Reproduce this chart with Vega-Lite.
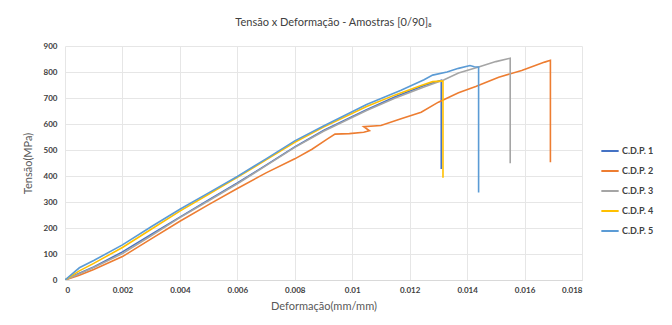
{
  "$schema": "https://vega.github.io/schema/vega-lite/v6.json",
  "width": 517,
  "height": 234,
  "autosize": {"type": "none"},
  "padding": {"left": 65, "top": 46, "right": 90, "bottom": 45},
  "background": "white",
  "title": {
    "text": "Tensão x Deformação - Amostras [0/90]₈",
    "anchor": "middle",
    "dx": 10,
    "offset": 14,
    "fontSize": 11,
    "fontWeight": "normal",
    "font": "Lato",
    "color": "#404040"
  },
  "data": {
    "values": [
      {"s": "C.D.P. 1", "i": 0, "x": 0, "y": 0},
      {"s": "C.D.P. 1", "i": 1, "x": 0.0005, "y": 26},
      {"s": "C.D.P. 1", "i": 2, "x": 0.001, "y": 50},
      {"s": "C.D.P. 1", "i": 3, "x": 0.002, "y": 108},
      {"s": "C.D.P. 1", "i": 4, "x": 0.003, "y": 175},
      {"s": "C.D.P. 1", "i": 5, "x": 0.004, "y": 242},
      {"s": "C.D.P. 1", "i": 6, "x": 0.005, "y": 308},
      {"s": "C.D.P. 1", "i": 7, "x": 0.006, "y": 373},
      {"s": "C.D.P. 1", "i": 8, "x": 0.007, "y": 442},
      {"s": "C.D.P. 1", "i": 9, "x": 0.008, "y": 512},
      {"s": "C.D.P. 1", "i": 10, "x": 0.009, "y": 575},
      {"s": "C.D.P. 1", "i": 11, "x": 0.0105, "y": 655},
      {"s": "C.D.P. 1", "i": 12, "x": 0.0115, "y": 705},
      {"s": "C.D.P. 1", "i": 13, "x": 0.0125, "y": 748},
      {"s": "C.D.P. 1", "i": 14, "x": 0.0131, "y": 768},
      {"s": "C.D.P. 1", "i": 15, "x": 0.0131, "y": 427},
      {"s": "C.D.P. 2", "i": 0, "x": 0, "y": 0},
      {"s": "C.D.P. 2", "i": 1, "x": 0.0005, "y": 18},
      {"s": "C.D.P. 2", "i": 2, "x": 0.001, "y": 40},
      {"s": "C.D.P. 2", "i": 3, "x": 0.002, "y": 90},
      {"s": "C.D.P. 2", "i": 4, "x": 0.003, "y": 158},
      {"s": "C.D.P. 2", "i": 5, "x": 0.004, "y": 226},
      {"s": "C.D.P. 2", "i": 6, "x": 0.005, "y": 290},
      {"s": "C.D.P. 2", "i": 7, "x": 0.006, "y": 352},
      {"s": "C.D.P. 2", "i": 8, "x": 0.007, "y": 412},
      {"s": "C.D.P. 2", "i": 9, "x": 0.008, "y": 466},
      {"s": "C.D.P. 2", "i": 10, "x": 0.0086, "y": 503},
      {"s": "C.D.P. 2", "i": 11, "x": 0.0091, "y": 540},
      {"s": "C.D.P. 2", "i": 12, "x": 0.0094, "y": 561},
      {"s": "C.D.P. 2", "i": 13, "x": 0.0099, "y": 563},
      {"s": "C.D.P. 2", "i": 14, "x": 0.0104, "y": 568},
      {"s": "C.D.P. 2", "i": 15, "x": 0.0106, "y": 574},
      {"s": "C.D.P. 2", "i": 16, "x": 0.0104, "y": 590},
      {"s": "C.D.P. 2", "i": 17, "x": 0.0110, "y": 594},
      {"s": "C.D.P. 2", "i": 18, "x": 0.0117, "y": 620},
      {"s": "C.D.P. 2", "i": 19, "x": 0.0124, "y": 645},
      {"s": "C.D.P. 2", "i": 20, "x": 0.0130, "y": 684},
      {"s": "C.D.P. 2", "i": 21, "x": 0.0137, "y": 720},
      {"s": "C.D.P. 2", "i": 22, "x": 0.0143, "y": 744},
      {"s": "C.D.P. 2", "i": 23, "x": 0.0151, "y": 780},
      {"s": "C.D.P. 2", "i": 24, "x": 0.0159, "y": 806},
      {"s": "C.D.P. 2", "i": 25, "x": 0.0167, "y": 838},
      {"s": "C.D.P. 2", "i": 26, "x": 0.0169, "y": 845},
      {"s": "C.D.P. 2", "i": 27, "x": 0.0169, "y": 453},
      {"s": "C.D.P. 3", "i": 0, "x": 0, "y": 0},
      {"s": "C.D.P. 3", "i": 1, "x": 0.0005, "y": 24},
      {"s": "C.D.P. 3", "i": 2, "x": 0.001, "y": 48},
      {"s": "C.D.P. 3", "i": 3, "x": 0.002, "y": 102},
      {"s": "C.D.P. 3", "i": 4, "x": 0.003, "y": 170},
      {"s": "C.D.P. 3", "i": 5, "x": 0.004, "y": 240},
      {"s": "C.D.P. 3", "i": 6, "x": 0.005, "y": 305},
      {"s": "C.D.P. 3", "i": 7, "x": 0.006, "y": 370},
      {"s": "C.D.P. 3", "i": 8, "x": 0.007, "y": 440},
      {"s": "C.D.P. 3", "i": 9, "x": 0.008, "y": 510},
      {"s": "C.D.P. 3", "i": 10, "x": 0.009, "y": 572},
      {"s": "C.D.P. 3", "i": 11, "x": 0.0105, "y": 652},
      {"s": "C.D.P. 3", "i": 12, "x": 0.0115, "y": 700},
      {"s": "C.D.P. 3", "i": 13, "x": 0.0125, "y": 742},
      {"s": "C.D.P. 3", "i": 14, "x": 0.0132, "y": 770},
      {"s": "C.D.P. 3", "i": 15, "x": 0.0137, "y": 796},
      {"s": "C.D.P. 3", "i": 16, "x": 0.0144, "y": 819},
      {"s": "C.D.P. 3", "i": 17, "x": 0.0150, "y": 840},
      {"s": "C.D.P. 3", "i": 18, "x": 0.0155, "y": 853},
      {"s": "C.D.P. 3", "i": 19, "x": 0.0155, "y": 449},
      {"s": "C.D.P. 4", "i": 0, "x": 0, "y": 0},
      {"s": "C.D.P. 4", "i": 1, "x": 0.0005, "y": 35},
      {"s": "C.D.P. 4", "i": 2, "x": 0.001, "y": 64},
      {"s": "C.D.P. 4", "i": 3, "x": 0.002, "y": 125},
      {"s": "C.D.P. 4", "i": 4, "x": 0.003, "y": 195},
      {"s": "C.D.P. 4", "i": 5, "x": 0.004, "y": 265},
      {"s": "C.D.P. 4", "i": 6, "x": 0.005, "y": 330},
      {"s": "C.D.P. 4", "i": 7, "x": 0.006, "y": 395},
      {"s": "C.D.P. 4", "i": 8, "x": 0.007, "y": 462},
      {"s": "C.D.P. 4", "i": 9, "x": 0.008, "y": 530},
      {"s": "C.D.P. 4", "i": 10, "x": 0.009, "y": 588},
      {"s": "C.D.P. 4", "i": 11, "x": 0.0105, "y": 667},
      {"s": "C.D.P. 4", "i": 12, "x": 0.0115, "y": 712},
      {"s": "C.D.P. 4", "i": 13, "x": 0.0124, "y": 748},
      {"s": "C.D.P. 4", "i": 14, "x": 0.0128, "y": 763},
      {"s": "C.D.P. 4", "i": 15, "x": 0.0131, "y": 765},
      {"s": "C.D.P. 4", "i": 16, "x": 0.01316, "y": 765},
      {"s": "C.D.P. 4", "i": 17, "x": 0.01316, "y": 393},
      {"s": "C.D.P. 5", "i": 0, "x": 0, "y": 0},
      {"s": "C.D.P. 5", "i": 1, "x": 0.0005, "y": 47},
      {"s": "C.D.P. 5", "i": 2, "x": 0.001, "y": 75},
      {"s": "C.D.P. 5", "i": 3, "x": 0.002, "y": 135},
      {"s": "C.D.P. 5", "i": 4, "x": 0.003, "y": 205},
      {"s": "C.D.P. 5", "i": 5, "x": 0.004, "y": 272},
      {"s": "C.D.P. 5", "i": 6, "x": 0.005, "y": 335},
      {"s": "C.D.P. 5", "i": 7, "x": 0.006, "y": 398},
      {"s": "C.D.P. 5", "i": 8, "x": 0.007, "y": 466},
      {"s": "C.D.P. 5", "i": 9, "x": 0.008, "y": 535},
      {"s": "C.D.P. 5", "i": 10, "x": 0.009, "y": 592},
      {"s": "C.D.P. 5", "i": 11, "x": 0.0105, "y": 675},
      {"s": "C.D.P. 5", "i": 12, "x": 0.0117, "y": 730},
      {"s": "C.D.P. 5", "i": 13, "x": 0.0125, "y": 770},
      {"s": "C.D.P. 5", "i": 14, "x": 0.0128, "y": 788},
      {"s": "C.D.P. 5", "i": 15, "x": 0.0133, "y": 800},
      {"s": "C.D.P. 5", "i": 16, "x": 0.0137, "y": 814},
      {"s": "C.D.P. 5", "i": 17, "x": 0.0141, "y": 825},
      {"s": "C.D.P. 5", "i": 18, "x": 0.01425, "y": 820},
      {"s": "C.D.P. 5", "i": 19, "x": 0.0144, "y": 819},
      {"s": "C.D.P. 5", "i": 20, "x": 0.0144, "y": 337}
    ]
  },
  "mark": {"type": "line", "strokeWidth": 1.6, "clip": true},
  "encoding": {
    "x": {
      "field": "x",
      "type": "quantitative",
      "scale": {"domain": [0, 0.018], "nice": false},
      "axis": {
        "values": [0, 0.002, 0.004, 0.006, 0.008, 0.01, 0.012, 0.014, 0.016, 0.018],
        "format": "~g",
        "title": "Deformação(mm/mm)",
        "titleFont": "Lato",
        "titleFontSize": 11,
        "titleFontWeight": "normal",
        "titleColor": "#595959",
        "titlePadding": 6,
        "labelFont": "Lato",
        "labelFontSize": 8,
        "labelFontWeight": "bold",
        "labelColor": "#404040",
        "labelPadding": 6,
        "ticks": false,
        "domainColor": "#d9d9d9",
        "gridColor": "#e6e6e6"
      }
    },
    "y": {
      "field": "y",
      "type": "quantitative",
      "scale": {"domain": [0, 900], "nice": false},
      "axis": {
        "values": [0, 100, 200, 300, 400, 500, 600, 700, 800, 900],
        "title": "Tensão(MPa)",
        "titleFont": "Lato",
        "titleFontSize": 11,
        "titleFontWeight": "normal",
        "titleColor": "#595959",
        "titlePadding": 10,
        "labelFont": "Lato",
        "labelFontSize": 8,
        "labelFontWeight": "bold",
        "labelColor": "#404040",
        "labelPadding": 8,
        "ticks": false,
        "domain": false,
        "gridColor": "#e6e6e6"
      }
    },
    "color": {
      "field": "s",
      "type": "nominal",
      "scale": {
        "domain": ["C.D.P. 1", "C.D.P. 2", "C.D.P. 3", "C.D.P. 4", "C.D.P. 5"],
        "range": ["#4472C4", "#ED7D31", "#A5A5A5", "#FFC000", "#5B9BD5"]
      },
      "legend": {
        "title": null,
        "orient": "none",
        "legendX": 535,
        "legendY": 95,
        "symbolType": "stroke",
        "symbolSize": 300,
        "symbolStrokeWidth": 2,
        "labelFont": "Lato",
        "labelFontSize": 9,
        "labelFontWeight": "bold",
        "labelColor": "#404040",
        "labelOffset": 2,
        "rowPadding": 5
      }
    },
    "order": {"field": "i", "type": "quantitative"}
  },
  "config": {"view": {"stroke": null}}
}
